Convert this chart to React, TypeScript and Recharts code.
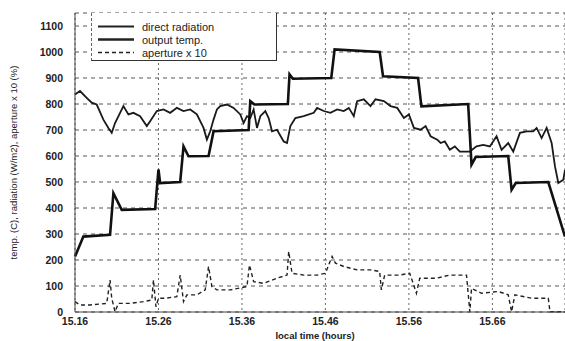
import { LineChart, Line, XAxis, YAxis, CartesianGrid, Legend, Label } from 'recharts'

// output temperature (staircase)
const tempTime = [15.16, 15.17, 15.202, 15.206, 15.216, 15.256, 15.26, 15.262, 15.286, 15.29, 15.296, 15.32, 15.326, 15.368, 15.37, 15.375, 15.415, 15.417, 15.421, 15.467, 15.471, 15.525, 15.529, 15.571, 15.575, 15.631, 15.635, 15.64, 15.679, 15.683, 15.688, 15.727, 15.747]
const tempValue = [213, 290, 297, 457, 393, 396, 548, 496, 500, 637, 599, 600, 695, 700, 811, 798, 800, 914, 897, 900, 1010, 1000, 907, 900, 791, 800, 567, 596, 600, 470, 496, 500, 290]

// direct radiation
const radTime = [15.16, 15.166, 15.174, 15.18, 15.186, 15.194, 15.2, 15.204, 15.208, 15.214, 15.218, 15.224, 15.23, 15.238, 15.246, 15.25, 15.258, 15.266, 15.274, 15.282, 15.29, 15.298, 15.306, 15.314, 15.318, 15.322, 15.326, 15.33, 15.334, 15.342, 15.35, 15.358, 15.362, 15.366, 15.37, 15.374, 15.378, 15.382, 15.388, 15.392, 15.396, 15.402, 15.41, 15.414, 15.418, 15.424, 15.434, 15.446, 15.45, 15.458, 15.466, 15.474, 15.482, 15.488, 15.494, 15.498, 15.506, 15.514, 15.52, 15.53, 15.538, 15.546, 15.554, 15.56, 15.566, 15.574, 15.58, 15.586, 15.594, 15.598, 15.603, 15.609, 15.615, 15.621, 15.633, 15.641, 15.649, 15.657, 15.665, 15.671, 15.679, 15.685, 15.693, 15.701, 15.709, 15.713, 15.719, 15.725, 15.731, 15.735, 15.739, 15.745, 15.747]
const radValue = [837, 850, 824, 805, 798, 740, 708, 689, 727, 766, 792, 760, 766, 753, 715, 734, 773, 779, 766, 785, 773, 779, 760, 708, 663, 695, 740, 779, 792, 798, 785, 760, 727, 753, 746, 779, 708, 753, 773, 746, 695, 701, 656, 650, 715, 746, 753, 766, 785, 773, 766, 779, 773, 785, 753, 811, 818, 792, 818, 811, 792, 785, 746, 760, 708, 701, 715, 676, 663, 650, 656, 624, 637, 617, 617, 637, 643, 637, 676, 624, 650, 617, 689, 695, 695, 708, 669, 708, 650, 560, 496, 509, 547]

// aperture x 10
const apTime = [15.16, 15.166, 15.178, 15.198, 15.202, 15.204, 15.208, 15.212, 15.216, 15.226, 15.242, 15.252, 15.254, 15.257, 15.26, 15.268, 15.282, 15.286, 15.29, 15.294, 15.306, 15.316, 15.32, 15.324, 15.33, 15.346, 15.366, 15.369, 15.374, 15.386, 15.402, 15.414, 15.416, 15.42, 15.434, 15.45, 15.46, 15.468, 15.472, 15.482, 15.498, 15.514, 15.525, 15.527, 15.531, 15.549, 15.561, 15.569, 15.573, 15.593, 15.609, 15.629, 15.633, 15.635, 15.647, 15.667, 15.679, 15.683, 15.687, 15.707, 15.727, 15.729, 15.747]
const apValue = [40, 27, 27, 33, 123, 53, 1, 33, 33, 33, 40, 46, 123, 20, 53, 53, 59, 142, 40, 66, 66, 85, 175, 98, 85, 85, 98, 181, 117, 110, 130, 142, 233, 149, 142, 142, 149, 214, 188, 175, 162, 162, 156, 85, 142, 142, 149, 72, 130, 130, 142, 142, 1, 91, 72, 79, 66, 1, 66, 53, 53, 1, 1]

const xTicks = [15.16, 15.26, 15.36, 15.46, 15.56, 15.66]
const yTicks = [0, 100, 200, 300, 400, 500, 600, 700, 800, 900, 1000, 1100]

const legendItems = [
  { name: 'direct radiation', width: 1.8, dash: '' },
  { name: 'output temp.', width: 2.6, dash: '' },
  { name: 'aperture x 10', width: 1.4, dash: '4 3' },
]

const pts = (ts: number[], vs: number[]) => ts.map((t, i) => ({ t, v: vs[i] }))
const radData = pts(radTime, radValue)
const tempData = pts(tempTime, tempValue)
const apData = pts(apTime, apValue)

const font = '"Liberation Sans", Arial, sans-serif'

const LegendBox = () => (
  <div style={{ width: 186, height: 48, background: '#fff', borderLeft: '1px dashed #666', borderRight: '1px solid #333', borderBottom: '1.5px solid #333', boxSizing: 'border-box', paddingTop: 7, fontFamily: font, fontSize: 11, color: '#222', textAlign: 'left' }}>
    {legendItems.map((it) => (
      <div key={it.name} style={{ display: 'flex', alignItems: 'center', height: 13 }}>
        <svg width={44} height={13} style={{ marginLeft: 6 }}>
          <line x1={0} x2={36} y1={6.5} y2={6.5} stroke="#222" strokeWidth={it.width} strokeDasharray={it.dash} />
        </svg>
        <span>{it.name}</span>
      </div>
    ))}
  </div>
)

const App = () => {
  return (
    <div style={{ position: 'absolute', left: 0, top: 0, background: '#fff' }}>
      <LineChart width={565} height={341} margin={{ top: 13, right: 0, bottom: 0, left: 0 }}>
        <CartesianGrid stroke="#555" strokeDasharray="4 4" horizontal={true} vertical={false} />
        <CartesianGrid stroke="#666" strokeDasharray="2 3" horizontal={false} vertical={true} />
        <XAxis dataKey="t" type="number" domain={[15.16, 15.747]} ticks={xTicks} allowDuplicatedCategory={false}
          height={29} tick={{ fill: '#222', fontSize: 10.5, fontFamily: font, fontWeight: 'bold' }} tickLine={false}
          tickSize={2} tickMargin={4} stroke="#444" tickFormatter={(v: number) => v.toFixed(2)}>
          <Label value="local time (hours)" position="insideBottom" offset={2} dx={-5}
            style={{ fill: '#222', fontSize: 9.5, fontFamily: font, fontWeight: 'bold' }} />
        </XAxis>
        <YAxis type="number" domain={[0, 1150]} ticks={yTicks} width={75} interval={0}
          tick={{ fill: '#222', fontSize: 10.5, fontFamily: font, fontWeight: 'bold' }} tickLine={false}
          tickSize={6} tickMargin={6} stroke="#444">
          <Label value="temp. (C), radiation (W/m2), aperture x 10 (%)" angle={-90} position="insideLeft" offset={14}
            style={{ textAnchor: 'middle', fill: '#222', fontSize: 9.5, fontFamily: font }} />
        </YAxis>
        <Legend content={<LegendBox />} layout="horizontal" verticalAlign="middle" align="center"
          wrapperStyle={{ left: 91, top: 13, width: 186 }} />
        <Line data={radData} dataKey="v" name="direct radiation" stroke="#1a1a1a" strokeWidth={1.8} dot={false} isAnimationActive={false} />
        <Line data={tempData} dataKey="v" name="output temp." stroke="#111" strokeWidth={2.6} dot={false} isAnimationActive={false} />
        <Line data={apData} dataKey="v" name="aperture x 10" stroke="#222" strokeWidth={1.4} strokeDasharray="4 3" dot={false} isAnimationActive={false} />
      </LineChart>
    </div>
  )
}

export default App
